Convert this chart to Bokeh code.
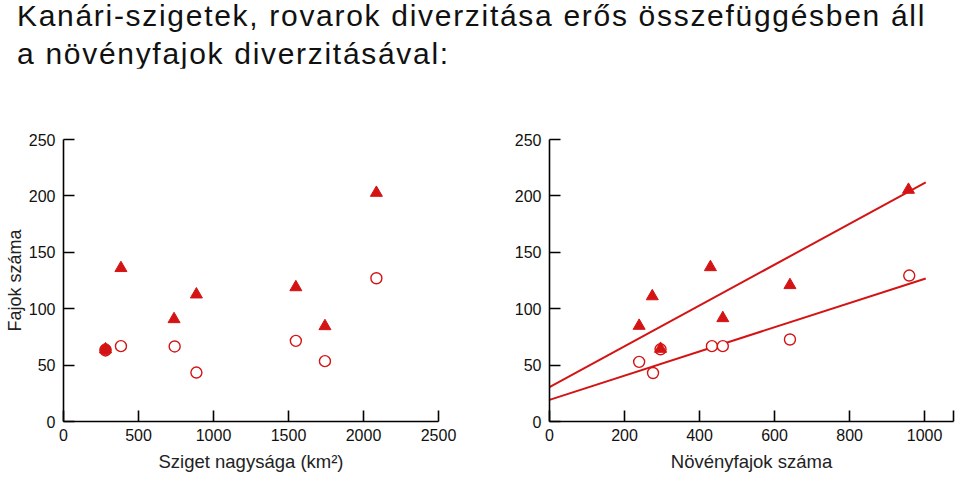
from bokeh.plotting import figure
from bokeh.layouts import column, row
from bokeh.models import Div, FixedTicker
from bokeh.embed import file_html
from bokeh.resources import INLINE

# --- data ---
area_tri = [280, 383, 737, 886, 1549, 1743, 2086]
insects_tri_area = [64, 136, 90.7, 112.6, 119, 84.5, 202.7]
area_circ = [280, 383, 741, 886, 1549, 1743, 2086]
insects_circ_area = [63, 66.8, 66.5, 43.4, 71.5, 53.5, 127]

plants_tri = [239, 274, 296, 429, 462, 641, 957]
insects_tri_plants = [84.8, 111, 64.4, 136.8, 91.6, 120.9, 205.4]
plants_circ = [239, 276, 296, 433, 462, 641, 959]
insects_circ_plants = [52.9, 43, 64, 66.8, 66.8, 72.7, 129.4]

fit_x = [0, 1003]
fit_upper = [30.4, 212]
fit_lower = [19.2, 126.8]

left_ticks = [0, 500, 1000, 1500, 2000, 2500]
right_ticks = [0, 200, 400, 600, 800, 1000, 1077]
y_ticks = [0, 50, 100, 150, 200, 250]

title_line1 = "Kanári-szigetek, rovarok diverzitása erős összefüggésben áll"
title_line2 = "a növényfajok diverzitásával:"

RED = "#d41414"
FONT = "Liberation Sans"


def style(p, xticks, xlabel, ylabel):
    p.xgrid.visible = False
    p.ygrid.visible = False
    p.outline_line_color = None
    p.background_fill_color = "white"
    p.border_fill_color = "white"
    for ax in (p.xaxis[0], p.yaxis[0]):
        ax.axis_line_color = "black"
        ax.axis_line_width = 1.6
        ax.major_tick_line_color = "black"
        ax.major_tick_line_width = 1.6
        ax.major_tick_in = 11
        ax.major_tick_out = 0
        ax.minor_tick_line_color = None
        ax.major_label_text_font = FONT
        ax.major_label_text_font_size = "16px"
        ax.major_label_text_color = "#111111"
        ax.axis_label_text_font = FONT
        ax.axis_label_text_font_size = "18.5px"
        ax.axis_label_text_font_style = "normal"
        ax.axis_label_text_color = "#222222"
        ax.major_label_standoff = 8
    p.xaxis[0].major_label_standoff = 7
    p.xaxis[0].ticker = FixedTicker(ticks=xticks)
    p.yaxis[0].ticker = FixedTicker(ticks=y_ticks)
    p.xaxis[0].axis_label = xlabel
    p.xaxis[0].axis_label_standoff = 7
    if ylabel:
        p.yaxis[0].axis_label = ylabel
        p.yaxis[0].axis_label_text_font_size = "18px"
        p.yaxis[0].axis_label_standoff = 1


p1 = figure(width=480, height=411, x_range=(0, 2500), y_range=(0, 250),
            output_backend="svg", toolbar_location=None,
            min_border_left=63, min_border_right=42, min_border_top=71, min_border_bottom=58)
style(p1, left_ticks, "Sziget nagysága (km²)", "Fajok száma")
p1.scatter(area_circ, insects_circ_area, marker="circle", size=11, fill_color=None,
           line_color=RED, line_width=1.4)
p1.scatter(area_tri, insects_tri_area, marker="triangle", size=12, fill_color=RED,
           line_color=RED, line_width=1)
p1.scatter(area_tri[:1], insects_tri_area[:1], marker="circle", size=11, fill_color=RED,
           line_color=RED, line_width=1)

p2 = figure(width=480, height=411, x_range=(0, 1077), y_range=(0, 250),
            output_backend="svg", toolbar_location=None,
            min_border_left=69, min_border_right=7, min_border_top=71, min_border_bottom=58)
style(p2, right_ticks, "Növényfajok száma", None)
p2.xaxis[0].major_label_overrides = {1077: ""}
p2.line(fit_x, fit_upper, line_color=RED, line_width=2)
p2.line(fit_x, fit_lower, line_color=RED, line_width=2)
p2.scatter(plants_circ, insects_circ_plants, marker="circle", size=11, fill_color="white",
           line_color=RED, line_width=1.4)
p2.scatter(plants_tri, insects_tri_plants, marker="triangle", size=12, fill_color=RED,
           line_color=RED, line_width=1)

title_html = (
    f'<div style="position:relative; top:-3px; left:17px; font-family:{FONT}; font-size:30px; '
    f'line-height:38px; letter-spacing:1.7px; color:#111111; white-space:nowrap;">'
    f'{title_line1}<br>{title_line2}</div>'
)
title = Div(text=title_html, width=960, height=68, margin=0)

layout = column(title, row(p1, p2))
open("out.html", "w").write(file_html(layout, INLINE))
